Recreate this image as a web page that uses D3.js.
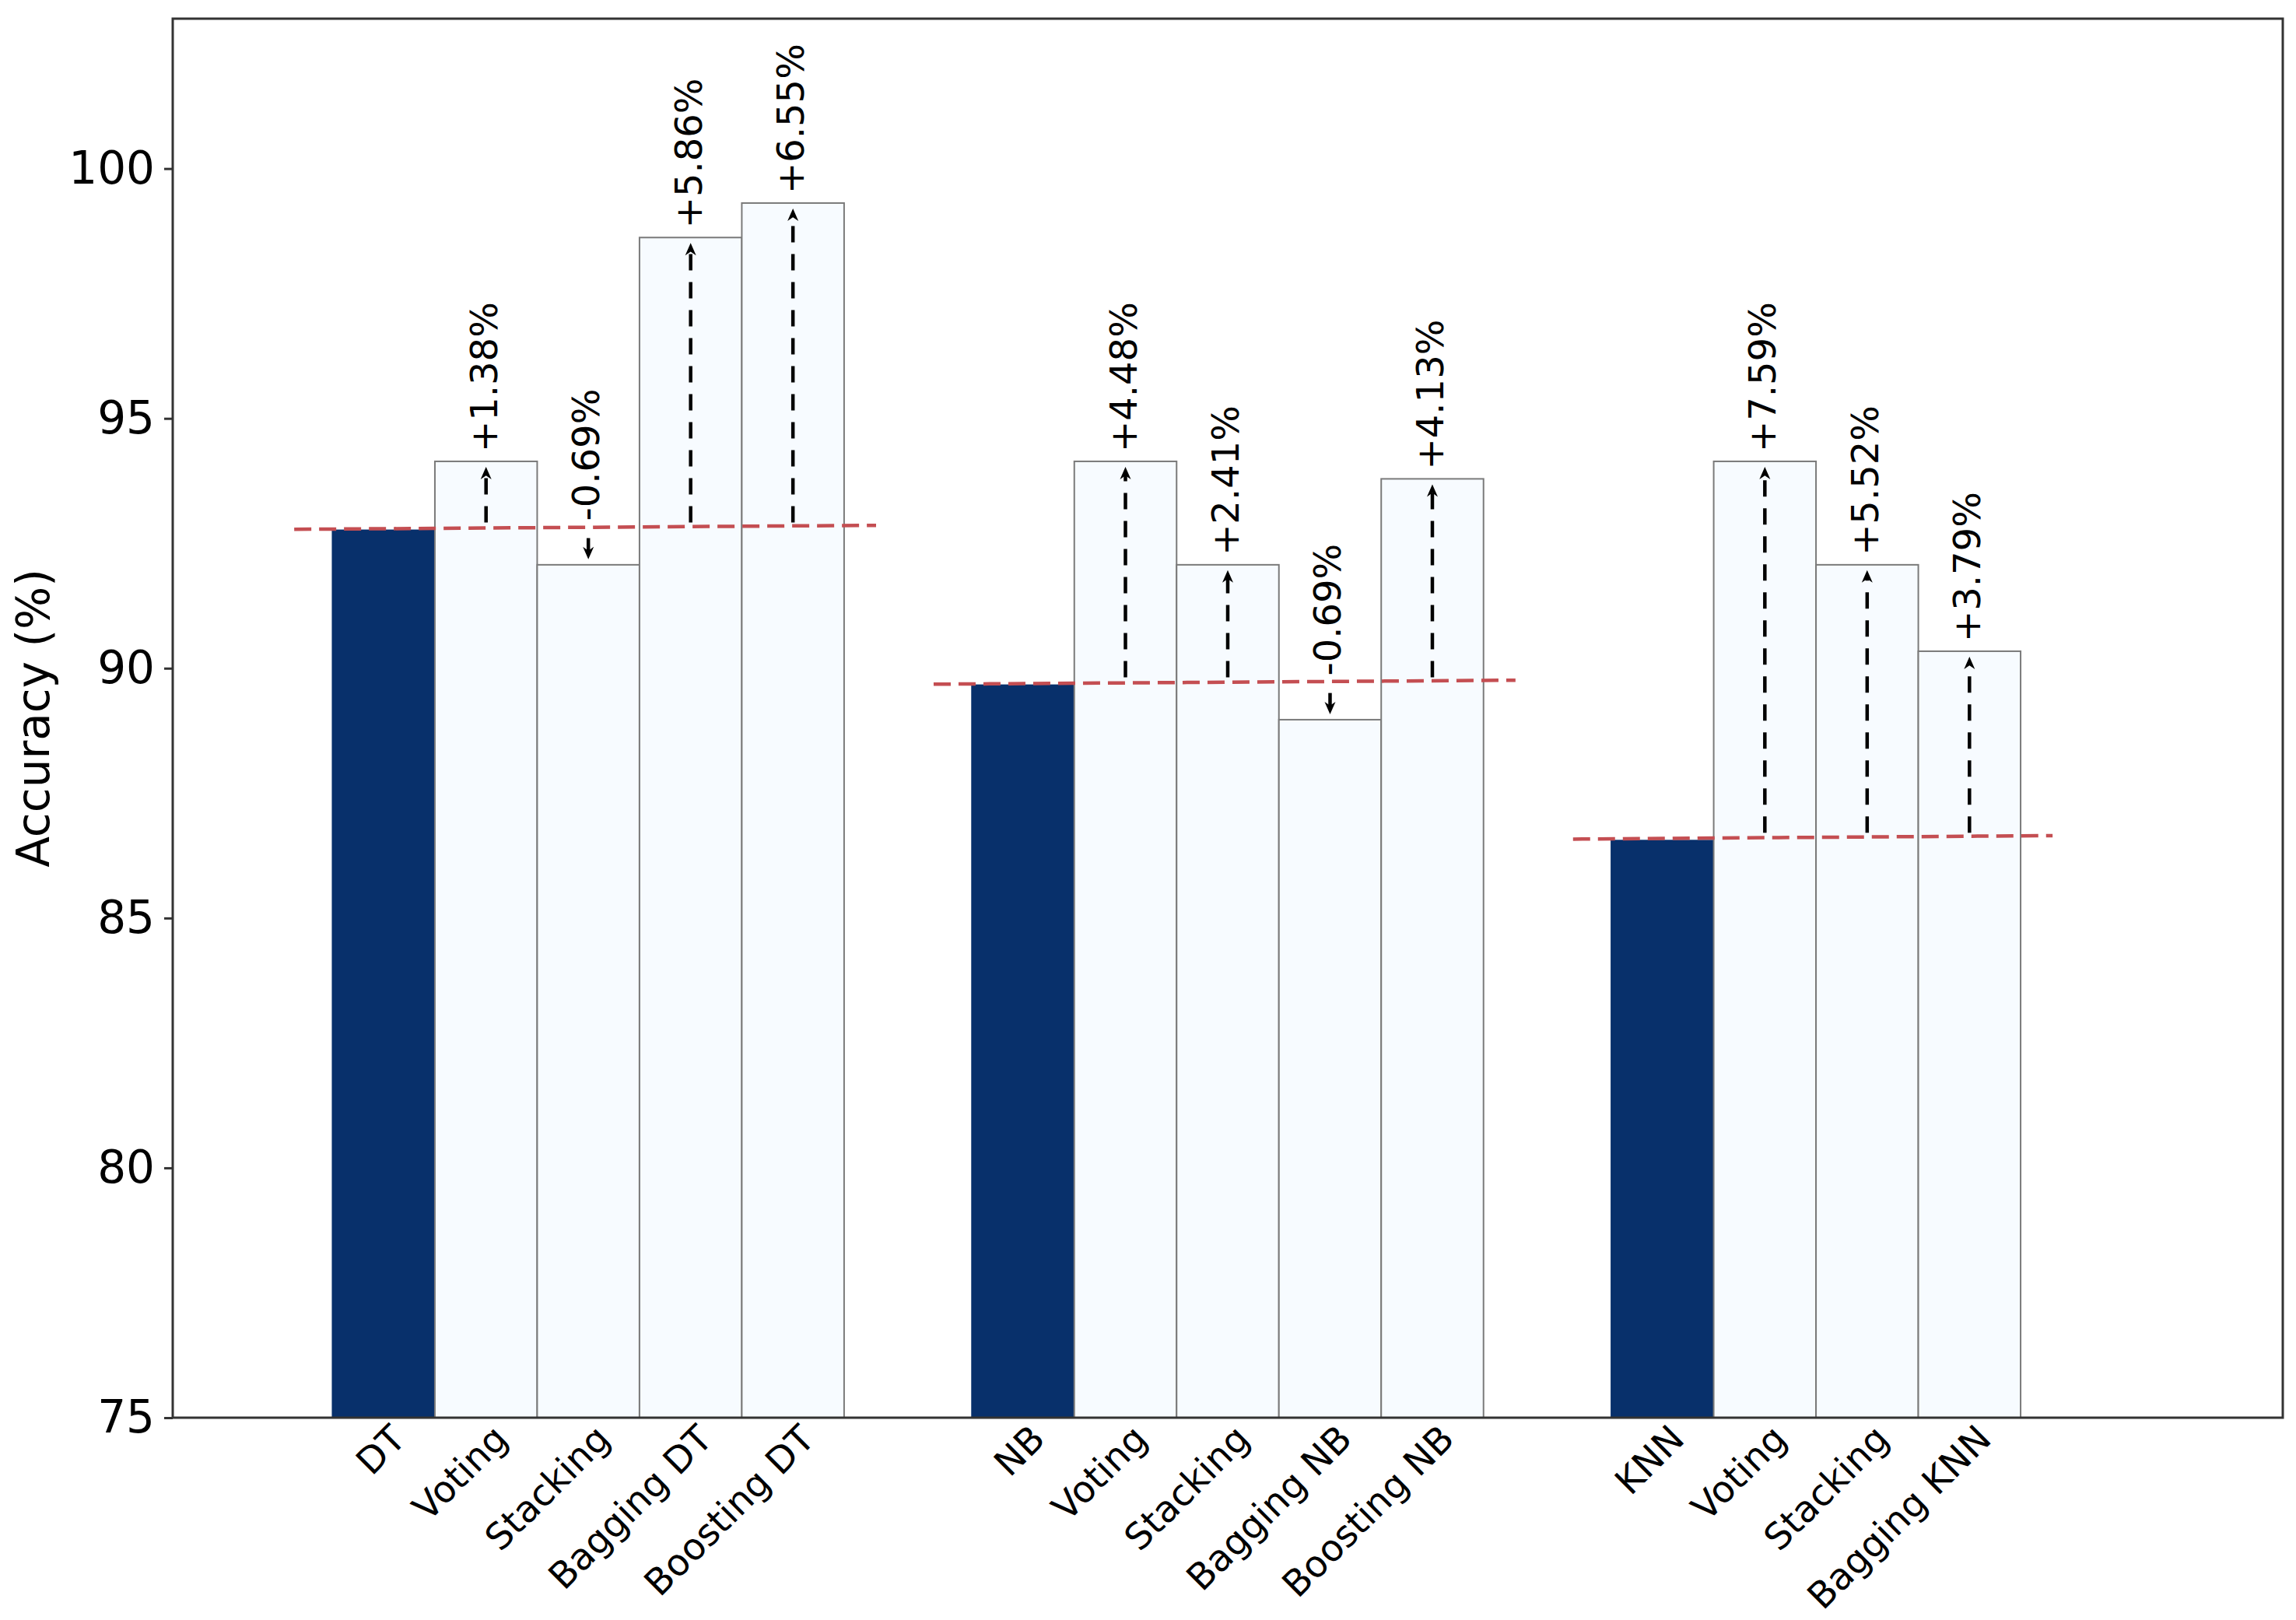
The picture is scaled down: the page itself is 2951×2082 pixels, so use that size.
<!DOCTYPE html>
<html>
<head>
<meta charset="utf-8">
<script src="https://cdn.jsdelivr.net/npm/d3@7"></script>
<style>
  body { margin: 0; background: #fff; }
  text { font-family: "DejaVu Sans", sans-serif; }
</style>
</head>
<body>
<script>
// base learners and their accuracy
const baseModels = ["DT", "NB", "KNN"];
const baseAcc = [92.76, 89.66, 86.55];
// ensembles built on each base learner
const ensembleLabels = [
  ["Voting", "Stacking", "Bagging DT", "Boosting DT"],
  ["Voting", "Stacking", "Bagging NB", "Boosting NB"],
  ["Voting", "Stacking", "Bagging KNN"]
];
const ensembleAcc = [
  [94.14, 92.07, 98.62, 99.31],
  [94.14, 92.07, 88.97, 93.79],
  [94.14, 92.07, 90.34]
];
// red reference line, read at its two ends (it is drawn slightly tilted)
const refLeft = [92.78, 89.68, 86.58];
const refRight = [92.86, 89.76, 86.65];
const yTicks = [75, 80, 85, 90, 95, 100];

var width = 2951, height = 2082;
var margin = {top: 24, right: 17, bottom: 260, left: 222};
var w = width - margin.left - margin.right, h = height - margin.top - margin.bottom;
var barW = 0.16;

// flatten into bars
var bars = [];
baseModels.forEach(function(m, g){
  bars.push({label: m, value: baseAcc[g], base: baseAcc[g], pos: g, isBase: true, g: g});
  ensembleLabels[g].forEach(function(l, j){
    bars.push({label: l, value: ensembleAcc[g][j], base: baseAcc[g], pos: g + (j + 1) * barW, isBase: false, g: g});
  });
});

var svg = d3.select("body").append("svg")
    .attr("width", width).attr("height", height)
    .append("g")
    .attr("transform", "translate(" + margin.left + "," + margin.top + ")");

var x = d3.scaleLinear().domain([-0.25, 3.05]).range([0, w]);
var y = d3.scaleLinear().domain([75, 103]).range([h, 0]);
var bw = x(barW) - x(0);
function cx(d){ return x(d.pos + barW / 2); }

// bars
svg.append("g").selectAll("rect").data(bars).enter().append("rect")
    .attr("x", function(d){ return x(d.pos); })
    .attr("y", function(d){ return y(d.value); })
    .attr("width", bw)
    .attr("height", function(d){ return h - y(d.value); })
    .attr("fill", function(d){ return d.isBase ? "#08306b" : "#f7fbff"; })
    .attr("stroke", function(d){ return d.isBase ? "#08306b" : "#7a7a7a"; })
    .attr("stroke-width", 2);

// red dashed reference lines
var refs = baseModels.map(function(m, g){
  var gb = bars.filter(function(d){ return d.g === g; });
  return {x1: gb[0].pos + barW / 2 - 0.14, x2: gb[gb.length - 1].pos + barW / 2 + 0.13, y1: refLeft[g], y2: refRight[g]};
});
svg.append("g").selectAll("line").data(refs).enter().append("line")
    .attr("x1", function(d){ return x(d.x1); })
    .attr("x2", function(d){ return x(d.x2); })
    .attr("y1", function(d){ return y(d.y1); })
    .attr("y2", function(d){ return y(d.y2); })
    .attr("stroke", "#c44e52")
    .attr("stroke-width", 4.5)
    .attr("stroke-dasharray", "22,10");

// arrows + labels for the ensembles
var ens = bars.filter(function(d){ return !d.isBase; });
var headL = 16, headW = 7;
var arr = svg.append("g");
ens.forEach(function(d){
  var px = cx(d);
  var yb = y(d.base), yv = y(d.value);
  var s = d.value > d.base ? -1 : 1; // screen direction
  var start = yb + s * 10, tip = yv - s * 7;
  arr.append("line")
      .attr("x1", px).attr("x2", px)
      .attr("y1", start).attr("y2", tip - s * headL * 0.6)
      .attr("stroke", "#000").attr("stroke-width", 4.5)
      .attr("stroke-dasharray", "21,15");
  arr.append("path")
      .attr("d", "M" + px + "," + tip + "L" + (px - headW) + "," + (tip - s * headL) +
                 "L" + px + "," + (tip - s * headL * 0.7) + "L" + (px + headW) + "," + (tip - s * headL) + "Z")
      .attr("fill", "#000");
  var diff = Math.round((d.value - d.base) * 100) / 100;
  var txt = (diff > 0 ? "+" : "") + diff.toFixed(2) + "%";
  var ty = Math.min(yb, yv) - 12;
  arr.append("text")
      .attr("transform", "translate(" + (px + 14) + "," + ty + ") rotate(-90)")
      .attr("text-anchor", "start")
      .style("font-size", "48px")
      .attr("fill", "#000")
      .text(txt);
});

// axes
var yAxis = d3.axisLeft(y).tickValues(yTicks).tickSize(11).tickPadding(12);
var gy = svg.append("g").call(yAxis);
gy.select(".domain").remove();
gy.selectAll("line").attr("stroke", "#333").attr("stroke-width", 3);
gy.selectAll("text").style("font-size", "58px").style("font-family", "DejaVu Sans").attr("fill", "#000");

var xAxis = d3.axisBottom(x)
    .tickValues(bars.map(function(d){ return d.pos + barW / 2; }))
    .tickFormat(function(d, i){ return bars[i].label; })
    .tickSize(0);
var gx = svg.append("g").attr("transform", "translate(0," + h + ")").call(xAxis);
gx.select(".domain").remove();
gx.selectAll("text")
    .attr("x", 0).attr("y", 0).attr("dy", null)
    .attr("text-anchor", "end")
    .attr("transform", "translate(30,30) rotate(-45)")
    .style("font-size", "47px").style("font-family", "DejaVu Sans").attr("fill", "#000");

// frame
svg.append("rect").attr("width", w).attr("height", h)
    .attr("fill", "none").attr("stroke", "#333").attr("stroke-width", 3);

// y label
svg.append("text")
    .attr("transform", "translate(" + (63 - margin.left) + "," + (h / 2) + ") rotate(-90)")
    .attr("text-anchor", "middle")
    .style("font-size", "58px")
    .text("Accuracy (%)");
</script>
</body>
</html>
